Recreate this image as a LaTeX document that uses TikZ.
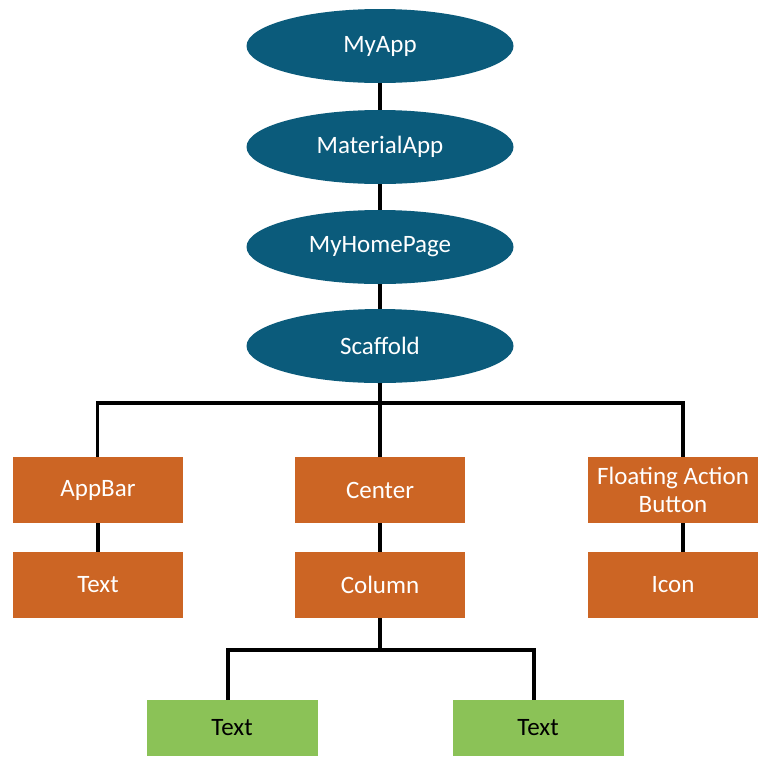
\documentclass[tikz,border=0pt]{standalone}
\usepackage{fontspec}
\setmainfont{Carlito}
\usetikzlibrary{shapes.geometric}
\definecolor{appblue}{HTML}{0B5B7B}
\definecolor{widgetorange}{HTML}{CC6524}
\definecolor{leafgreen}{HTML}{8BC257}
\tikzset{
  app/.style={ellipse, fill=appblue, text=white, minimum width=267pt, minimum height=74pt, inner sep=0pt, font=\fontsize{25}{28}\selectfont},
  widget/.style={rectangle, fill=widgetorange, text=white, minimum width=170pt, minimum height=66pt, inner sep=0pt, align=center, font=\fontsize{25}{28}\selectfont},
  leaf/.style={rectangle, fill=leafgreen, text=black, minimum width=171pt, minimum height=56pt, inner sep=0pt, font=\fontsize{25}{28}\selectfont},
  link/.style={line width=3.5pt, black}
}
\begin{document}
\begin{tikzpicture}[x=1pt, y=-1pt]
        \useasboundingbox (0, 0) rectangle (759, 756);

        \node[app] (myapp) at (380, 46) {MyApp};
        \node[app] (material) at (380, 147) {MaterialApp};
        \node[app] (home) at (380, 247) {MyHomePage};
        \node[app] (scaffold) at (380, 346) {Scaffold};

        \node[widget] (appbar) at (98, 490) {AppBar};
        \node[widget] (center) at (380, 490) {Center};
        \node[widget] (fab) at (673, 490) {Floating Action\\Button};
        \node[widget] (bartext) at (98, 585) {Text};
        \node[widget] (column) at (380, 585) {Column};
        \node[widget] (icon) at (673, 585) {Icon};

        \node[leaf] (lefttext) at (232, 728) {Text};
        \node[leaf] (righttext) at (538, 728) {Text};

        \coordinate (bar) at (380, 403);
        \coordinate (split) at (380, 650);

        \draw[link] (myapp) -- (material);
        \draw[link] (material) -- (home);
        \draw[link] (home) -- (scaffold);
        \draw[link] (scaffold.south) -- (bar) -- (center.north);
        \draw[link] ([xshift=-0.5pt]appbar.north) |- (bar) -| ([xshift=10pt]fab.north);
        \draw[link] (appbar) -- (bartext);
        \draw[link] (center) -- (column);
        \draw[link] ([xshift=10pt]fab.south) -- ([xshift=10pt]icon.north);
        \draw[link] (column.south) -- (split);
        \draw[link] ([xshift=-4pt]lefttext.north) |- (split) -| ([xshift=-4pt]righttext.north);

    \end{tikzpicture}
\end{document}
